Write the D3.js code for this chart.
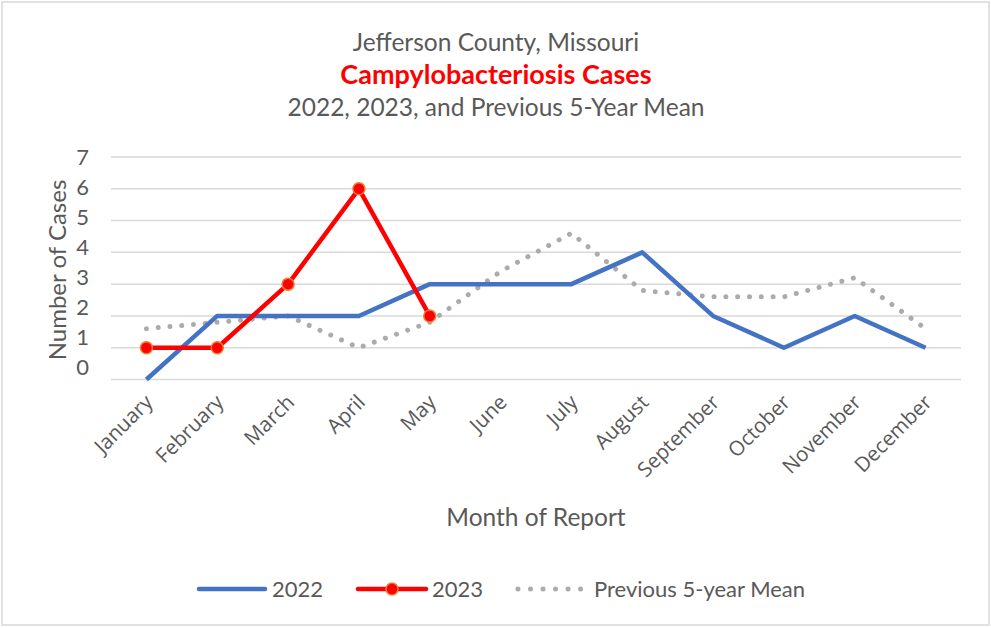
<!DOCTYPE html>
<html>
<head>
<meta charset="utf-8">
<script src="https://cdn.jsdelivr.net/npm/d3@7"></script>
<style>
  html, body { margin: 0; padding: 0; background: #fff; }
  svg { display: block; }
</style>
</head>
<body>
<svg id="chart" width="991" height="628"></svg>
<script>
const months = ["January","February","March","April","May","June","July","August","September","October","November","December"];
const values2022 = [0, 2, 2, 2, 3, 3, 3, 4, 2, 1, 2, 1];
const values2023 = [1, 1, 3, 6, 2];
const valuesMean = [1.6, 1.8, 2.0, 1.0, 1.8, 3.4, 4.6, 2.8, 2.6, 2.6, 3.2, 1.6];
const yTicks = [0, 1, 2, 3, 4, 5, 6, 7];
const titleLines = ["Jefferson County, Missouri", "Campylobacteriosis Cases", "2022, 2023, and Previous 5-Year Mean"];
const seriesNames = ["2022", "2023", "Previous 5-year Mean"];

const svg = d3.select("#chart");
const textColor = "#595959";
const calibri = "Lato, 'Open Sans', sans-serif";
const segoe = "'Open Sans', 'Noto Sans', sans-serif";

// border
svg.append("rect").attr("x", 2).attr("y", 2).attr("width", 987).attr("height", 623)
  .attr("fill", "#fff").attr("stroke", "#D9D9D9").attr("stroke-width", 1.5);

// titles
svg.append("text").attr("x", 496).attr("y", 50.5).attr("text-anchor", "middle")
  .attr("font-family", calibri).attr("font-size", 24.5).attr("fill", textColor).text(titleLines[0]);
svg.append("text").attr("x", 496).attr("y", 84).attr("text-anchor", "middle")
  .attr("font-family", calibri).attr("font-size", 27).attr("font-weight", "bold").attr("fill", "#FF0000").text(titleLines[1]);
svg.append("text").attr("x", 496).attr("y", 115.5).attr("text-anchor", "middle")
  .attr("font-family", calibri).attr("font-size", 24.5).attr("fill", textColor).text(titleLines[2]);

const x = d3.scaleBand().domain(months).range([111, 961]).padding(0);
const xc = d => x(d) + x.bandwidth() / 2;
const y = d3.scaleLinear().domain([0, 7]).range([379.5, 157]);
const yLab = d3.scaleLinear().domain([0, 7]).range([367, 157]);

// gridlines
svg.append("g").selectAll("line").data(yTicks).join("line")
  .attr("x1", 111).attr("x2", 961)
  .attr("y1", d => y(d)).attr("y2", d => y(d))
  .attr("stroke", "#D9D9D9").attr("stroke-width", 1.5);

// y axis labels
const yAxisG = svg.append("g").attr("transform", "translate(89,0)")
  .call(d3.axisLeft(yLab).tickValues(yTicks).tickSize(0).tickPadding(0).tickFormat(d3.format("d")));
yAxisG.select(".domain").remove();
yAxisG.selectAll("text").attr("font-family", calibri).attr("font-size", 22).attr("fill", textColor);

// y title
svg.append("text").attr("transform", "translate(66,270) rotate(-90)").attr("text-anchor", "middle")
  .attr("font-family", calibri).attr("font-size", 24).attr("fill", textColor).text("Number of Cases");

// x axis labels
const xAxisG = svg.append("g").attr("transform", "translate(0,398.5)")
  .call(d3.axisBottom(x).tickSize(0).tickPadding(0));
xAxisG.select(".domain").remove();
xAxisG.selectAll("text")
  .attr("font-family", segoe).attr("font-size", 20.5).attr("fill", textColor)
  .attr("text-anchor", "end").attr("dy", "0.35em").attr("y", 0)
  .attr("transform", "translate(2.5,0) rotate(-45)");

// x title
svg.append("text").attr("x", 536).attr("y", 525.5).attr("text-anchor", "middle")
  .attr("font-family", calibri).attr("font-size", 24.5).attr("fill", textColor).text("Month of Report");

const line = d3.line().x((d, i) => xc(months[i])).y(d => y(d));

// mean dotted
svg.append("path").datum(valuesMean).attr("d", line)
  .attr("fill", "none").attr("stroke", "#AEAAAA").attr("stroke-width", 5)
  .attr("stroke-linecap", "round").attr("stroke-dasharray", "0.01 11.8");

// 2022
svg.append("path").datum(values2022).attr("d", line)
  .attr("fill", "none").attr("stroke", "#4472C4").attr("stroke-width", 4.5)
  .attr("stroke-linejoin", "round");

// 2023
svg.append("path").datum(values2023).attr("d", line)
  .attr("fill", "none").attr("stroke", "#FF0000").attr("stroke-width", 4.5)
  .attr("stroke-linejoin", "round");
svg.append("g").selectAll("circle").data(values2023).join("circle")
  .attr("cx", (d, i) => xc(months[i])).attr("cy", d => y(d)).attr("r", 6)
  .attr("fill", "#FF0000").attr("stroke", "#ED7D31").attr("stroke-width", 1.5);

// legend
const ly = 589;
const leg = svg.append("g");
leg.append("line").attr("x1", 199).attr("x2", 265).attr("y1", ly).attr("y2", ly)
  .attr("stroke", "#4472C4").attr("stroke-width", 4.5).attr("stroke-linecap", "round");
leg.append("text").attr("x", 272).attr("y", ly).attr("dy", "0.35em")
  .attr("font-family", calibri).attr("font-size", 22).attr("fill", textColor).text(seriesNames[0]);
leg.append("line").attr("x1", 358).attr("x2", 426).attr("y1", ly).attr("y2", ly)
  .attr("stroke", "#FF0000").attr("stroke-width", 4.5).attr("stroke-linecap", "round");
leg.append("circle").attr("cx", 392).attr("cy", ly).attr("r", 6)
  .attr("fill", "#FF0000").attr("stroke", "#ED7D31").attr("stroke-width", 1.5);
leg.append("text").attr("x", 432).attr("y", ly).attr("dy", "0.35em")
  .attr("font-family", calibri).attr("font-size", 22).attr("fill", textColor).text(seriesNames[1]);
leg.append("line").attr("x1", 518).attr("x2", 582).attr("y1", ly).attr("y2", ly)
  .attr("stroke", "#AEAAAA").attr("stroke-width", 5).attr("stroke-linecap", "round")
  .attr("stroke-dasharray", "0.01 12.5");
leg.append("text").attr("x", 594).attr("y", ly).attr("dy", "0.35em")
  .attr("font-family", calibri).attr("font-size", 22).attr("fill", textColor).text(seriesNames[2]);
</script>
</body>
</html>
